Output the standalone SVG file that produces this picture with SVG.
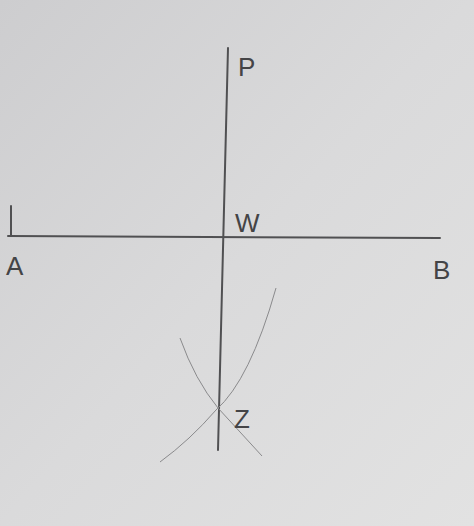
<svg xmlns="http://www.w3.org/2000/svg" width="474" height="526" viewBox="0 0 474 526">
<defs>
<linearGradient id="bg" x1="0" y1="0" x2="1" y2="1">
<stop offset="0" stop-color="#cdcdcf"/><stop offset="0.5" stop-color="#dadadb"/><stop offset="1" stop-color="#e2e2e2"/>
</linearGradient>
<style>
.ln{stroke:#505052;stroke-width:2;fill:none;stroke-linecap:round}
.arc{stroke:#8a8a8c;stroke-width:1;fill:none}
.t{font-family:"Liberation Sans",sans-serif;font-size:26px;fill:#444446}
</style>
</defs>
<rect width="474" height="526" fill="url(#bg)"/>
<g id="connectors">
<path class="ln" d="M8 236 L440 238"/>
<path class="ln" d="M11 206 L11 236"/>
<path class="ln" d="M228 48 L218 450"/>
<path class="arc" d="M276 288 Q250 380 216 410 Q190 440 160 462"/>
<path class="arc" d="M180 338 Q195 380 218 408 Q240 432 262 456"/>
</g>
<g id="P"><text class="t" x="238" y="76">P</text></g>
<g id="W"><text class="t" x="235" y="232">W</text></g>
<g id="A"><text class="t" x="6" y="275">A</text></g>
<g id="B"><text class="t" x="433" y="279">B</text></g>
<g id="Z"><text class="t" x="234" y="428">Z</text></g>
</svg>
